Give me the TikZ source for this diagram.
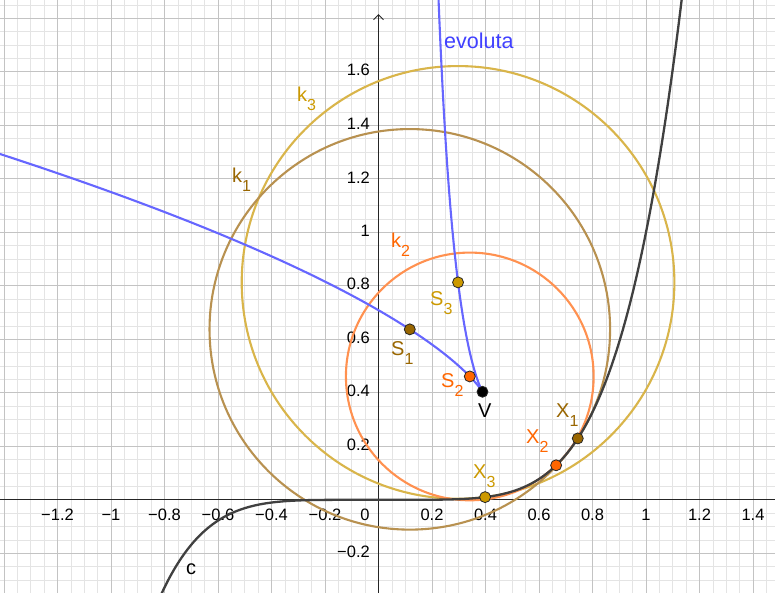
\documentclass[tikz,border=0pt]{standalone}
\usepackage{fontspec}
\setmainfont{Liberation Sans}
\usetikzlibrary{arrows.meta}
\definecolor{gridmin}{RGB}{228,228,228}
\definecolor{gridmaj}{RGB}{195,195,195}
\definecolor{axiscol}{RGB}{37,37,37}
\definecolor{cgold}{RGB}{204,153,0}
\definecolor{kgold}{RGB}{217,181,74}
\definecolor{cbrown}{RGB}{153,102,0}
\definecolor{kbrown}{RGB}{184,145,80}
\definecolor{corange}{RGB}{255,102,0}
\definecolor{korange}{RGB}{255,145,80}
\definecolor{evo}{RGB}{102,102,255}
\definecolor{evotext}{RGB}{64,64,255}
\definecolor{curvec}{RGB}{64,64,64}
\newcommand\sbs[1]{\raisebox{-9pt}{\fontsize{16}{16}\selectfont #1}}
\begin{document}
\begin{tikzpicture}[x=1pt,y=-1pt,
  lab/.style={font=\fontsize{20}{20}\selectfont, anchor=base west, inner sep=0pt},
  ticklab/.style={font=\fontsize{16.5}{16.5}\selectfont, inner sep=0pt, text=black},
  ptmark/.style={circle, draw=black!85, line width=0.8pt, minimum size=11pt, inner sep=0pt},
  minorline/.style={gridmin, line width=0.7pt},
  majorline/.style={gridmaj, line width=0.9pt},
  axisline/.style={axiscol, line width=1.2pt},
  circlek/.style={line width=2.1pt},
  ]
\useasboundingbox (0,0) rectangle (775,592);
\fill[white] (0,0) rectangle (775,592);
\begin{scope}
\clip (0,0) rectangle (775,592);
\begin{scope}[shift={(378.5pt,-499.8pt)}, x=267.5pt, y=267.5pt]
  % grid
  \foreach \i in {-29,...,30} \draw[minorline] (\i*0.05,-0.4) -- (\i*0.05,1.9);
  \foreach \j in {-7,...,38} \draw[minorline] (-1.45,\j*0.05) -- (1.5,\j*0.05);
  \foreach \i in {-7,...,7} \draw[majorline] (\i*0.2,-0.4) -- (\i*0.2,1.9);
  \foreach \j in {-1,...,9} \draw[majorline] (-1.45,\j*0.2) -- (1.5,\j*0.2);
  % axes
  \coordinate (xl) at (-1.45,0);
  \coordinate (xr) at (1.5,0);
  \coordinate (yb) at (0,-0.4);
  \coordinate (yt) at (0,1.816);
  \draw[axisline] (xl) -- (xr);
  \draw[axisline, -{Straight Barb[length=5pt,width=10pt,line width=1pt]}] (yb) -- (yt);
  % tick labels
  \foreach \v/\t [count=\n] in {-1.2/−1.2,-1/−1,-0.8/−0.8,-0.6/−0.6,-0.4/−0.4,-0.2/−0.2,0.2/0.2,0.4/0.4,0.6/0.6,0.8/0.8,1/1,1.2/1.2,1.4/1.4}
    \node[ticklab, anchor=base, yshift=-20.5pt] (xt\n) at (\v,0) {\t};
  \node[ticklab, anchor=base, xshift=-13.5pt, yshift=-20.5pt] (xt0) at (0,0) {0};
  \foreach \v/\t [count=\n] in {-0.2/−0.2,0.2/0.2,0.4/0.4,0.6/0.6,0.8/0.8,1/1,1.2/1.2,1.4/1.4,1.6/1.6}
    \node[ticklab, anchor=east, xshift=-8.5pt, yshift=1.5pt] (yt\n) at (0,\v) {\t};
  % osculating circle data
  \pgfmathsetmacro\cxA{0.75*0.745-6.25*0.745^9}
  \pgfmathsetmacro\cyA{2.25*0.745^5+0.05/0.745^3}
  \pgfmathsetmacro\rA{(1+25*0.745^8)^1.5/(20*0.745^3)}
  \pgfmathsetmacro\yA{0.745^5}
  \pgfmathsetmacro\cxB{0.75*0.664-6.25*0.664^9}
  \pgfmathsetmacro\cyB{2.25*0.664^5+0.05/0.664^3}
  \pgfmathsetmacro\rB{(1+25*0.664^8)^1.5/(20*0.664^3)}
  \pgfmathsetmacro\yB{0.664^5}
  \pgfmathsetmacro\cxC{0.75*0.3985-6.25*0.3985^9}
  \pgfmathsetmacro\cyC{2.25*0.3985^5+0.05/0.3985^3}
  \pgfmathsetmacro\rC{(1+25*0.3985^8)^1.5/(20*0.3985^3)}
  \pgfmathsetmacro\yC{0.3985^5}
  \pgfmathsetmacro\cxV{0.75*0.5829-6.25*0.5829^9}
  \pgfmathsetmacro\cyV{2.25*0.5829^5+0.05/0.5829^3}
  \coordinate (S1) at (\cxA,\cyA);
  \coordinate (S2) at (\cxB,\cyB);
  \coordinate (S3) at (\cxC,\cyC);
  \coordinate (V) at (\cxV,\cyV);
  \coordinate (X1) at (0.745,\yA);
  \coordinate (X2) at (0.664,\yB);
  \coordinate (X3) at (0.3985,\yC);
  % circles
  \draw[kgold, circlek] (S3) circle[radius=\rC];
  \draw[kbrown, circlek] (S1) circle[radius=\rA];
  \draw[korange, circlek] (S2) circle[radius=\rB];
  % evolute
  \draw[evo, line width=2.1pt, line join=round] plot[domain=0.28:0.5829, samples=300, variable=\t] ({0.75*\t-6.25*\t^9},{2.25*\t^5+0.05/(\t*\t*\t)});
  \draw[evo, line width=2.1pt, line join=round] plot[domain=0.5829:0.9, samples=300, variable=\t] ({0.75*\t-6.25*\t^9},{2.25*\t^5+0.05/(\t*\t*\t)});
  % curve c
  \draw[curvec, line width=2.3pt, line join=round] plot[domain=-0.85:1.14, samples=300, variable=\x] (\x,{\x*\x*\x*\x*\x});
  % points
  \node[ptmark, fill=cbrown] (pS1) at (S1) {};
  \node[ptmark, fill=corange] (pS2) at (S2) {};
  \node[ptmark, fill=cgold] (pS3) at (S3) {};
  \node[ptmark, fill=black] (pV) at (V) {};
  \node[ptmark, fill=cbrown] (pX1) at (X1) {};
  \node[ptmark, fill=corange] (pX2) at (X2) {};
  \node[ptmark, fill=cgold] (pX3) at (X3) {};
\end{scope}
\end{scope}
% labels (pixel coordinates, baseline)
\node[lab, font=\fontsize{21.5}{21.5}\selectfont, text=evotext] (levo) at (444,48) {evoluta};
\node[lab, text=cgold] (lk3) at (297,101) {k\sbs{3}};
\node[lab, text=cbrown] (lk1) at (232,182) {k\sbs{1}};
\node[lab, text=corange] (lk2) at (391,247) {k\sbs{2}};
\node[lab, text=cgold] (lS3) at (430,305) {S\sbs{3}};
\node[lab, text=cbrown] (lS1) at (391,355) {S\sbs{1}};
\node[lab, text=corange] (lS2) at (441,387) {S\sbs{2}};
\node[lab, text=black] (lV) at (478,417) {V};
\node[lab, text=cbrown] (lX1) at (556,417) {X\sbs{1}};
\node[lab, text=corange] (lX2) at (526,443) {X\sbs{2}};
\node[lab, text=cgold] (lX3) at (473,478) {X\sbs{3}};
\node[lab, text=black] (lc) at (186,574) {c};
\end{tikzpicture}
\end{document}
